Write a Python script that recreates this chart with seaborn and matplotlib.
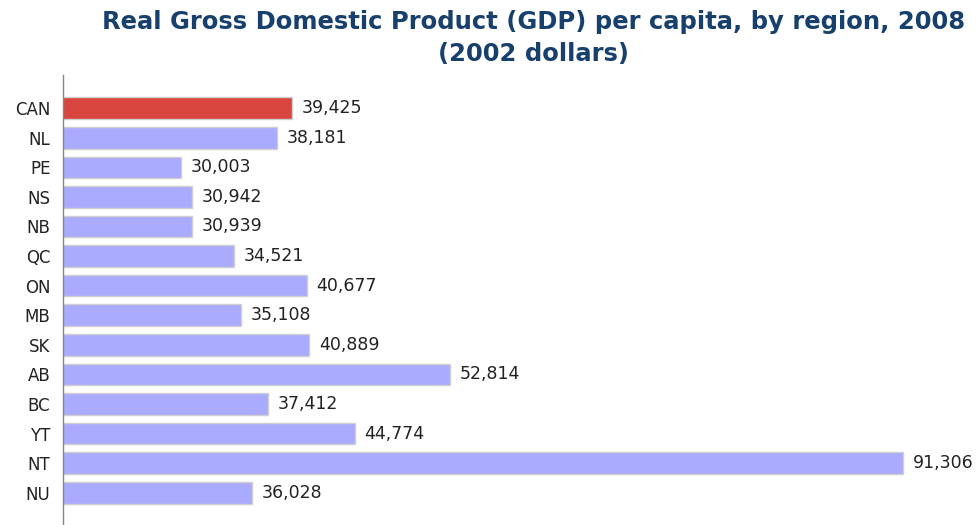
import matplotlib
matplotlib.use("Agg")
import matplotlib.pyplot as plt
import seaborn as sns

regions = ["CAN", "NL", "PE", "NS", "NB", "QC", "ON", "MB", "SK", "AB", "BC", "YT", "NT", "NU"]
gdp = [39425, 38181, 30003, 30942, 30939, 34521, 40677, 35108, 40889, 52814, 37412, 44774, 91306, 36028]
labels = [f"{v:,}" for v in gdp]

sns.set_theme(style="white")
plt.rcParams["font.family"] = ["DejaVu Sans"]

W, H = 978, 525
fig = plt.figure(figsize=(W / 100, H / 100), dpi=100)
ax = fig.add_axes([63 / W, 0, (W - 63) / W, 450 / H])

colors = ["#d9463f"] + ["#aaaaff"] * (len(regions) - 1)
sns.barplot(x=gdp, y=regions, hue=regions, palette=colors, orient="h", saturation=1,
            width=0.73, edgecolor="#cfcfcf", linewidth=1, legend=False, ax=ax)

for cont, lab in zip(ax.containers, labels):
    ax.bar_label(cont, labels=[lab], padding=7, fontsize=12.5, color="#222222", clip_on=False)

ax.set_xlim(20000, 97660)
ax.set_ylim(14.09, -1.12)
ax.set_xticks([])
ax.set_xlabel("")
ax.set_ylabel("")
ax.tick_params(axis="y", length=0, pad=9, labelsize=12, labelcolor="#222222")
for s in ["top", "right", "bottom"]:
    ax.spines[s].set_visible(False)
ax.spines["left"].set_color("#888888")
ax.spines["left"].set_linewidth(1)

title_kw = dict(ha="center", va="center", fontsize=17.5, fontweight="bold", color="#17406d")
fig.text(534 / W, 1 - 22 / H, "Real Gross Domestic Product (GDP) per capita, by region, 2008", **title_kw)
fig.text(534 / W, 1 - 54 / H, "(2002 dollars)", **title_kw)

fig.savefig("out.png", dpi=100)
